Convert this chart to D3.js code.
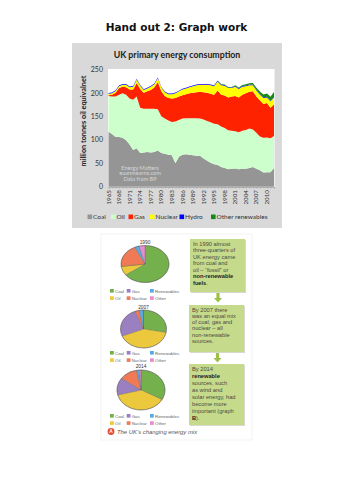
<!DOCTYPE html>
<html><head><meta charset="utf-8">
<script src="https://cdn.jsdelivr.net/npm/d3@7"></script>
<style>body{margin:0;background:#fff;} svg{display:block;}</style>
</head><body><svg id="c" width="353" height="500"></svg>
<script>
// ---------- Area chart data (million tonnes oil equivalent) ----------
const years = [1965,1966,1967,1968,1969,1970,1971,1972,1973,1974,
  1975,1976,1977,1978,1979,1980,1981,1982,1983,1984,
  1985,1986,1987,1988,1989,1990,1991,1992,1993,1994,
  1995,1996,1997,1998,1999,2000,2001,2002,2003,2004,
  2005,2006,2007,2008,2009,2010,2011,2012];
const coal = [117,112,106,106,104,99,90,78,82,72, 73,74,73,74,77,72,70,68,67,50,
  64,68,69,68,67,66,66,60,55,51, 48,46,42,40,37,38,39,37,38,38, 40,42,38,35,30,31,31,40];
const oil = [76,80,86,90,95,97,98,107,110,96, 93,92,93,92,88,78,75,73,71,89,
  78,77,77,78,79,80,79,83,85,86, 86,87,86,85,83,81,79,79,81,83, 84,80,77,72,74,74,72,68];
const gas = [2,4,8,14,14,16,19,22,29,40, 34,37,40,45,58,53,48,48,50,50,
  50,50,51,53,54,55,57,58,60,61, 62,72,68,69,70,73,75,74,77,78, 78,81,77,77,72,73,65,67];
const nuclear = [3,3,4,4,4,5,5,6,7,7, 6,6,7,7,8,8,8,8,9,10,
  11,12,12,13,14,15,15,16,17,18, 18,19,20,21,20,18,20,18,17,15, 14,13,13,12,13,12,14,15];
const hydro = [1.5,1.5,1.5,1.5,1.5,1.5,1.5,1.5,1.5,1.5, 1.5,1.5,1.5,1.5,1.5,1.5,1.5,1.5,1.5,1.5,
  1.5,1.5,1.5,1.5,1.5,1.5,1.5,1.5,1.5,1.5, 1.5,1.5,1.5,1.5,1.5,1.5,1.5,1.5,1.5,1.5, 1.5,1.5,1.5,1.5,1.5,1.5,1.5,1.5];
const renewables = [0,0,0,0,0,0,0,0,0,0, 0,0,0,0,0,0,0,0,0,0,
  0,0,0,0,0,0,0,0,0,0, 0.5,0.5,1,1,1,1,1.5,2,2,2.5, 3,3.5,4,5,6,7,8,10];
const seriesNames = ["Coal","Oil","Gas","Nuclear","Hydro","Other renewables"];
const seriesColors = ["#959595","#ccffcc","#ff2200","#ffff00","#0000ff","#138a13"];
const yTicks = [0,50,100,150,200,250];
const yearLabels = [1965,1968,1971,1974,1977,1980,1983,1986,1989,1992,1995,1998,2001,2004,2007,2010];

// ---------- Pie data (percent shares) ----------
const pieCats = ["Coal","Oil","Gas","Nuclear","Renewables","Other"];
const pieColors = ["#74b04c","#ecc93c","#9a80c0","#ef7a55","#5aaae0","#e98ccb"];
const pie1990 = [65,8,0,20,3,4];
const pie2007 = [28,41,25,3,3,0];
const pie2014 = [33,38,14,12,2,1];
const pieYears = ["1990","2007","2014"];
const legendCols = [["Coal","Oil"],["Gas","Nuclear"],["Renewables","Other"]];

const box1 = [["In 1990 almost",0],["three-quarters of",0],["UK energy came",0],["from coal and",0],["oil \u2013 \u201cfossil\u201d or",0],["non-renewable",1],["fuels",1,"."]];
const box2 = [["By 2007 there",0],["was an equal mix",0],["of coal, gas and",0],["nuclear \u2013 all",0],["non-renewable",0],["sources.",0]];
const box3 = [["By 2014",0],["renewable",1],["sources, such",0],["as wind and",0],["solar energy, had",0],["become more",0],["important (graph",0],["B",1,")."]];

const svg = d3.select("#c");

svg.append("text").attr("x",176.5).attr("y",31).attr("text-anchor","middle")
  .attr("font-family","DejaVu Sans").attr("font-weight","bold").attr("font-size",10.5)
  .attr("fill","#111").text("Hand out 2: Graph work");

// panel
svg.append("rect").attr("x",72).attr("y",43).attr("width",210).attr("height",185).attr("fill","#d9d9d9");
svg.append("text").attr("x",177).attr("y",58).attr("text-anchor","middle")
  .attr("font-family","Lato").attr("font-weight","bold").attr("font-size",8.8)
  .attr("fill","#222").text("UK primary energy consumption");

const x = d3.scaleLinear().domain([1965,2012]).range([108.5,274]);
const y = d3.scaleLinear().domain([0,250]).range([186.7,69.3]);
svg.append("rect").attr("x",108).attr("y",69).attr("width",166.5).attr("height",118).attr("fill","#fff");

const table = years.map((yr,i)=>({year:yr, Coal:coal[i], Oil:oil[i], Gas:gas[i], Nuclear:nuclear[i], Hydro:hydro[i], "Other renewables":renewables[i]}));
const stack = d3.stack().keys(seriesNames)(table);
const area = d3.area().x(d=>x(d.data.year)).y0(d=>y(d[0])).y1(d=>y(d[1]));
svg.append("g").selectAll("path").data(stack).join("path")
  .attr("d",area).attr("fill",(d,i)=>seriesColors[i]);

// watermark
["Energy Matters","euanmearns.com","Data from BP"].forEach((t,i)=>{
  svg.append("text").attr("x",140).attr("y",169.5+i*5.8).attr("text-anchor","middle")
    .attr("font-family","Lato").attr("font-size",5.6).attr("fill","#d6d6d6").text(t);
});

// y axis
const yAxis = d3.axisLeft(y).tickValues(yTicks).tickSize(0).tickPadding(5);
const gy = svg.append("g").attr("transform","translate(108,0)").call(yAxis);
gy.select(".domain").remove();
gy.selectAll("text").attr("font-family","Lato").attr("font-size",7).attr("fill","#333");

// x axis
const xAxis = d3.axisBottom(x).tickValues(years).tickSize(1.5).tickFormat("");
const gx = svg.append("g").attr("transform","translate(0,187)").call(xAxis);
gx.select(".domain").attr("stroke","#999").attr("stroke-width",0.6);
gx.selectAll("line").attr("stroke","#999").attr("stroke-width",0.5);
yearLabels.forEach(yr=>{
  svg.append("text").attr("transform",`translate(${x(yr)},190) rotate(-90)`)
    .attr("dy","0.33em").attr("text-anchor","end")
    .attr("font-family","Lato").attr("font-size",6.3).attr("fill","#333").text(yr);
});

svg.append("text").attr("transform","translate(86,121) rotate(-90)").attr("text-anchor","middle")
  .attr("font-family","Lato").attr("font-weight","bold").attr("font-size",7.3)
  .attr("fill","#222").text("million tonnes oil equivalnet");

// legend
const legX = [87.5,111,128.5,150,179.5,211];
seriesNames.forEach((n,i)=>{
  svg.append("rect").attr("x",legX[i]).attr("y",214.5).attr("width",4.6).attr("height",4.6).attr("fill",seriesColors[i]);
  svg.append("text").attr("x",legX[i]+5.6).attr("y",219.3).attr("font-family","Lato").attr("font-size",6.5)
    .attr("fill","#333").text(n);
});

// ---------- textbook figure ----------
svg.append("rect").attr("x",101).attr("y",234).attr("width",151).attr("height",206)
  .attr("fill","none").attr("stroke","#f3f3f3").attr("stroke-width",1);

const pies = [
  {vals:pie1990, cx:145, cy:264, rx:24, ry:18.5, label:242.5, leg:291},
  {vals:pie2007, cx:143.5, cy:329, rx:23, ry:19, label:307.5, leg:353},
  {vals:pie2014, cx:141, cy:390, rx:24, ry:20, label:366.5, leg:416}
];
const pieGen = d3.pie().sort(null).value(d=>d);
pies.forEach((p,k)=>{
  const g = svg.append("g").attr("transform",`translate(${p.cx},${p.cy}) scale(1,${p.ry/p.rx})`);
  const arc = d3.arc().innerRadius(0).outerRadius(p.rx);
  g.selectAll("path").data(pieGen(p.vals)).join("path").attr("d",arc)
    .attr("fill",(d,i)=>pieColors[i]).attr("stroke","#555").attr("stroke-width",0.3);
  g.append("circle").attr("r",p.rx).attr("fill","none").attr("stroke","#555").attr("stroke-width",0.5);
  svg.append("text").attr("x",p.cx).attr("y",p.label+1.5).attr("text-anchor","middle")
    .attr("font-family","Liberation Sans").attr("font-size",4.8).attr("fill","#333").text(pieYears[k]);
  const colX = [110,126.7,150];
  legendCols.forEach((col,c)=>{
    col.forEach((name,r)=>{
      const idx = pieCats.indexOf(name);
      const yy = p.leg + r*7.3;
      svg.append("rect").attr("x",colX[c]).attr("y",yy-2).attr("width",3.8).attr("height",3.6).attr("fill",pieColors[idx]);
      svg.append("text").attr("x",colX[c]+5).attr("y",yy+1.5).attr("font-family","Liberation Sans")
        .attr("font-size",4.4).attr("fill","#666").text(name);
    });
  });
});

// boxes
function drawBox(x0,y0,w,h,lines,firstBase,lh){
  svg.append("rect").attr("x",x0+1).attr("y",y0+1).attr("width",w).attr("height",h).attr("fill","#d8d8d0");
  svg.append("rect").attr("x",x0).attr("y",y0).attr("width",w).attr("height",h).attr("fill","#c6da8c");
  lines.forEach((l,i)=>{
    const t = svg.append("text").attr("x",x0+3).attr("y",firstBase+i*lh)
      .attr("font-family","Liberation Sans").attr("font-size",5.7).attr("fill","#4a4a40");
    t.append("tspan").attr("font-weight",l[1]?"bold":"normal").attr("fill",l[1]?"#222":"#4a4a40").text(l[0]);
    if(l[2]) t.append("tspan").text(l[2]);
  });
}
function drawArrow(cx,y0){
  svg.append("rect").attr("x",cx-1.6).attr("y",y0).attr("width",3.2).attr("height",5.5).attr("fill","#9cc048");
  svg.append("path").attr("d",`M${cx-4},${y0+5} L${cx+4},${y0+5} L${cx},${y0+9.5} Z`).attr("fill","#9cc048");
}
drawBox(190,239,55,53,box1,245.5,6.5);
drawArrow(218,293);
drawBox(189,305,55,47,box2,311.5,6.3);
drawArrow(217.5,353);
drawBox(189,364,55,61,box3,370.5,7);

// caption
svg.append("circle").attr("cx",111).attr("cy",431.5).attr("r",3.4).attr("fill","#e2493c");
svg.append("text").attr("x",111).attr("y",433.3).attr("text-anchor","middle").attr("font-family","Liberation Sans")
  .attr("font-weight","bold").attr("font-size",4.8).attr("fill","#fff").text("A");
svg.append("text").attr("x",117).attr("y",433.5).attr("font-family","Liberation Sans").attr("font-style","italic")
  .attr("font-size",5.9).attr("fill","#555").text("The UK\u2019s changing energy mix");
</script>
</body></html>
